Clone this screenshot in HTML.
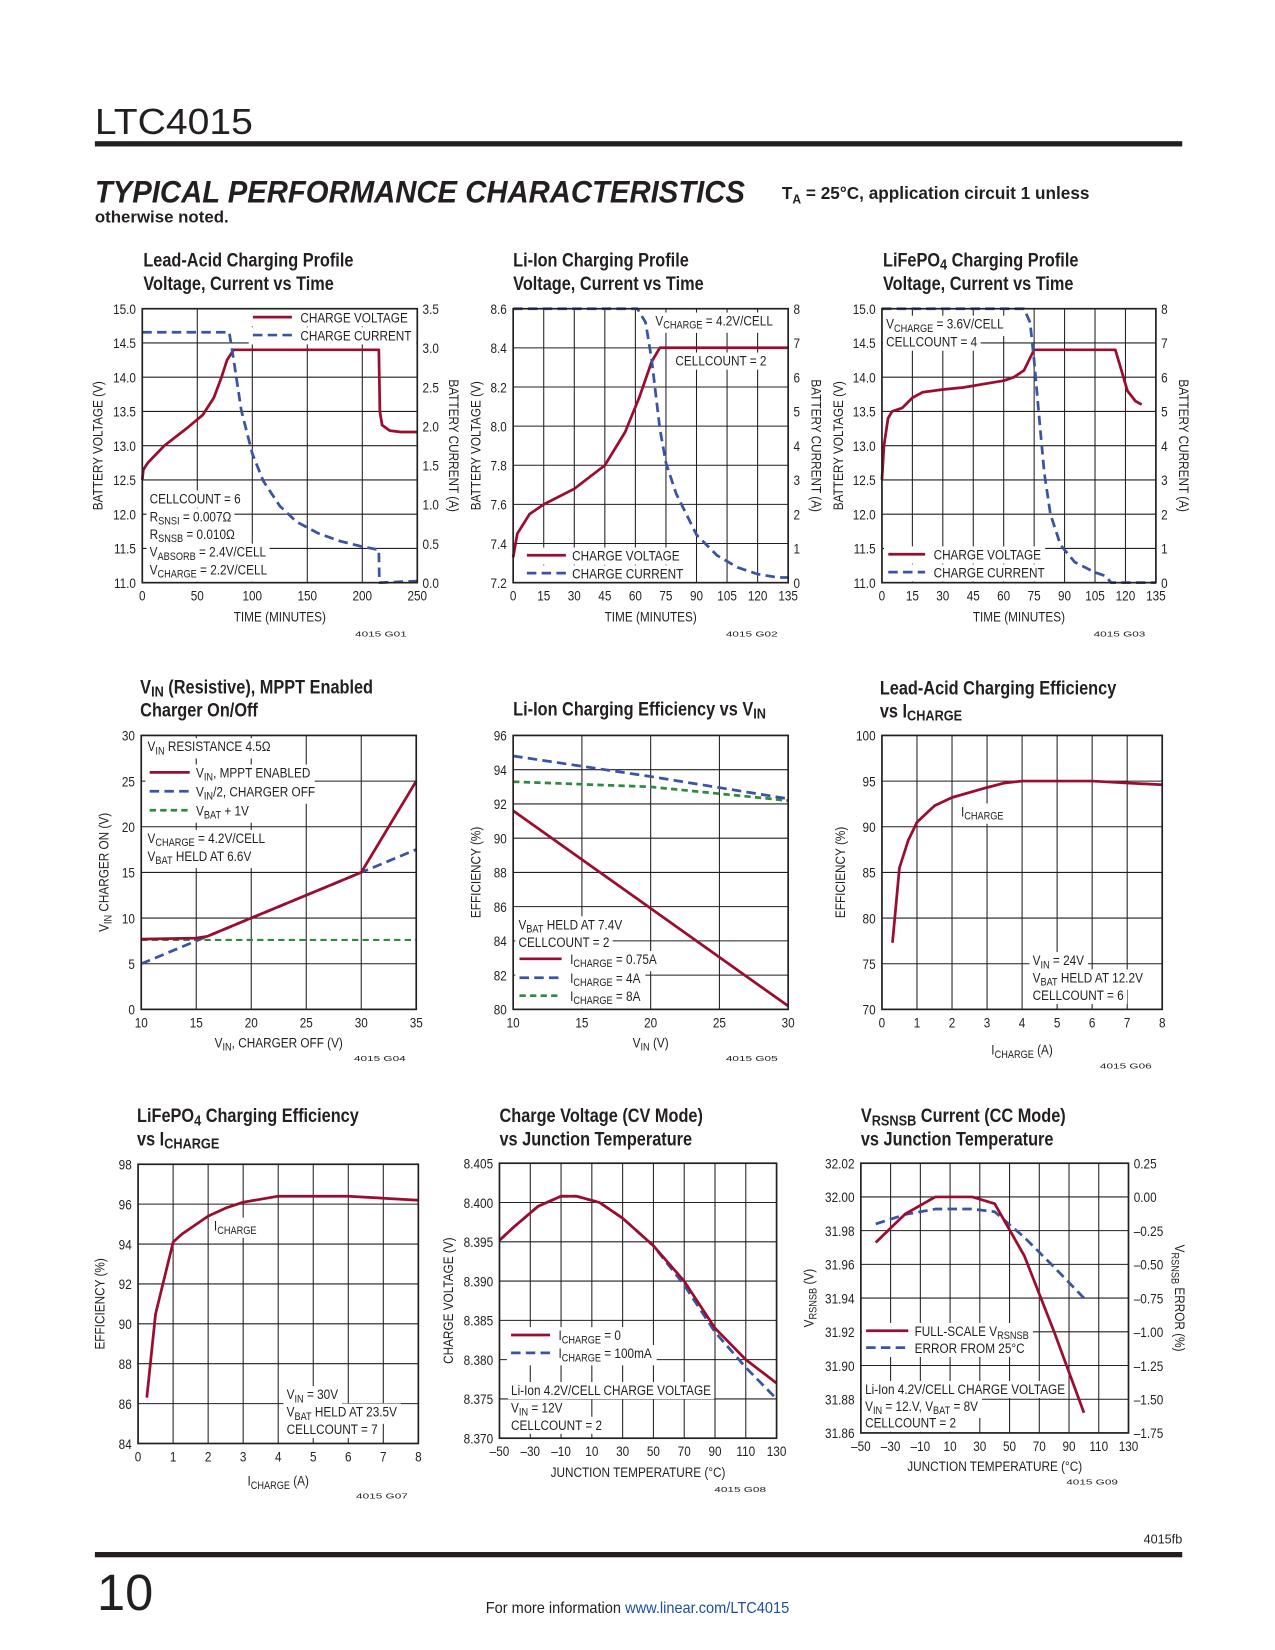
<!DOCTYPE html>
<html><head><meta charset="utf-8"><style>
html,body{margin:0;padding:0;background:#fff}
svg{display:block}
text{font-family:"Liberation Sans Narrow","Liberation Sans",sans-serif;fill:#231f20}
.t{font-size:13px}
.ttl{font-size:18px;font-weight:bold}
</style></head><body>
<svg id="page" width="1275" height="1650" viewBox="0 0 1210 1566" xmlns="http://www.w3.org/2000/svg">
<rect width="1210" height="1566" fill="#fff"/>
<text x="90" y="127" textLength="150" lengthAdjust="spacingAndGlyphs" style="font-family:'Liberation Sans',sans-serif;font-size:34px;font-weight:300">LTC4015</text>
<rect x="90" y="134" width="1032" height="5" fill="#231f20"/>
<text x="90" y="192" textLength="617" lengthAdjust="spacingAndGlyphs" style="font-family:'Liberation Sans',sans-serif;font-size:30px;font-weight:bold;font-style:italic">TYPICAL PERFORMANCE CHARACTERISTICS</text>
<text x="742" y="189" textLength="292" lengthAdjust="spacingAndGlyphs" style="font-size:17px;font-weight:bold">T<tspan font-size="12" dy="4">A</tspan><tspan dy="-4"> = 25°C, application circuit 1 unless</tspan></text>
<text x="90" y="211" textLength="127" lengthAdjust="spacingAndGlyphs" style="font-size:16px;font-weight:bold">otherwise noted.</text>
<rect x="90" y="1473" width="1032" height="5" fill="#231f20"/>
<text x="1122" y="1465" text-anchor="end" style="font-size:12px">4015fb</text>
<text x="92" y="1528" style="font-family:'Liberation Sans',sans-serif;font-size:48px;font-weight:300">10</text>
<text x="605" y="1531" text-anchor="middle" textLength="288" lengthAdjust="spacingAndGlyphs" style="font-size:15px">For more information <tspan style="fill:#1a4fa0">www.linear.com/LTC4015</tspan></text>
<g id="charts"></g>
</svg>
<script>
// ---------- DATA ----------
const c1Time=[0,1,5,20,40,55,65,72,77,83,215,216,218,225,235,250];
const c1Volt=[12.5,12.65,12.75,13.0,13.25,13.45,13.7,14.0,14.25,14.4,14.4,13.5,13.3,13.22,13.2,13.2];
const c1CurTime=[0,79,83,90,100,110,125,140,160,180,200,215,215.5,250];
const c1Cur=[3.2,3.2,2.85,2.2,1.65,1.3,0.98,0.78,0.63,0.53,0.46,0.42,0.0,0.02];

const c2Time=[0,2,8,15,30,45,55,62,68,72,135];
const c2Volt=[7.33,7.45,7.55,7.6,7.68,7.8,7.97,8.15,8.33,8.4,8.4];
const c2CurTime=[0,61,65,68,72,75,80,90,100,110,120,130,135];
const c2Cur=[8,8,7.6,6.5,4.5,3.5,2.6,1.4,0.8,0.45,0.25,0.15,0.15];

const c3Time=[0,1,3,5,10,15,20,30,40,50,60,65,70,75,115,118,121,125,128];
const c3Volt=[12.5,13.0,13.4,13.5,13.55,13.7,13.78,13.82,13.85,13.9,13.95,14.0,14.1,14.4,14.4,14.1,13.8,13.65,13.6];
const c3CurTime=[0,70,73,75,78,80,83,88,95,105,110,113,135];
const c3Cur=[8,8,7.6,6.5,4.5,3.2,2.0,1.1,0.6,0.3,0.2,0,0];

const c4VinOff=[10,15,16,20,30,35];
const c4Mppt=[7.7,7.8,8.0,10,15,25];
const c4HalfX=[10,30,35];
const c4Half=[5,15,17.5];
const c4BatX=[10,35];
const c4Bat=[7.6,7.6];

const c5Vin=[10,20,30];
const c5I075=[91.6,85.9,80.2];
const c5I4=[94.8,93.6,92.3];
const c5I8=[93.3,93.0,92.2];

const c6I=[0.3,0.5,0.75,1,1.5,2,3,3.5,4,5,6,7,8];
const c6Eff=[77.3,85.5,88.5,90.5,92.3,93.2,94.3,94.8,95,95,95,94.8,94.6];

const c7I=[0.25,0.5,1,1.25,2,2.5,3,4,5,6,7,8];
const c7Eff=[86.3,90.5,94.1,94.5,95.4,95.8,96.1,96.4,96.4,96.4,96.3,96.2];

const c8Temp=[-50,-40,-25,-10,0,15,30,50,70,90,110,130];
const c8I0=[8.3952,8.397,8.3995,8.4008,8.4008,8.400,8.398,8.3945,8.390,8.384,8.380,8.377];
const c8I100=[8.3952,8.397,8.3995,8.4008,8.4008,8.400,8.398,8.3945,8.3895,8.3835,8.379,8.375];

const c9Temp=[-40,-20,0,25,40,60,80,100];
const c9Vrs=[31.973,31.99,32.0,32.0,31.996,31.965,31.92,31.872];
const c9ErrTemp=[-40,-20,0,25,40,60,80,100];
const c9Err=[-0.2,-0.13,-0.09,-0.09,-0.11,-0.3,-0.52,-0.75];

// ---------- HELPERS ----------
const NS="http://www.w3.org/2000/svg";
const root=document.getElementById('charts');
const RED="#9b0d2e",BLUE="#3a53a4",GREEN="#2e8a3e";
const SQUEEZE=0.86;
function el(tag,attrs,parent){const e=document.createElementNS(NS,tag);for(const k in attrs)e.setAttribute(k,attrs[k]);(parent||root).appendChild(e);return e;}
function rich(s){return s.replace(/_\{([^}]*)\}/g,'<tspan font-size="0.78em" dy="3">$1</tspan><tspan dy="-3">\u200b</tspan>');}
function txt(x,y,s,cls,anchor,g,name){const t=el('text',{x:x,y:y,class:cls||'t','text-anchor':anchor||'start'},g);t.innerHTML=rich(s);


const w=t.getComputedTextLength();if(w>0){t.setAttribute('textLength',(w*SQUEEZE).toFixed(1));t.setAttribute('lengthAdjust','spacingAndGlyphs');}
return t;}
function fmt(v,d){const s=Math.abs(v).toFixed(d);return (v<-1e-9?'\u2013':'')+s;}
function chart(c){
  const g=el('g',{});
  
  
  const grid=el('g',{},g),ann=el('g',{},g),ser=el('g',{},g),top=el('g',{},g);
  const [L,T,R,B]=c.box;
  const sx=v=>L+(v-c.x[0])/(c.x[1]-c.x[0])*(R-L);
  const sy=v=>B-(v-c.y[0])/(c.y[1]-c.y[0])*(B-T);
  const syr=c.yr?v=>B-(v-c.yr[0])/(c.yr[1]-c.yr[0])*(B-T):null;
  for(let v=c.x[0];v<=c.x[1]+1e-9;v+=c.x[2]){el('line',{x1:sx(v),x2:sx(v),y1:T,y2:B,stroke:'#231f20','stroke-width':1},grid);
    txt(sx(v),B+17,fmt(v,c.x[3]||0),'t','middle',top,'x-tick-label');}
  for(let v=c.y[0];v<=c.y[1]+1e-9;v+=c.y[2]){el('line',{x1:L,x2:R,y1:sy(v),y2:sy(v),stroke:'#231f20','stroke-width':1},grid);
    txt(L-6,sy(v)+5,fmt(v,c.y[3]||0),'t','end',top,'y-tick-label');}
  if(c.yr){for(let v=c.yr[0];v<=c.yr[1]+1e-9;v+=c.yr[2]){txt(R+5,syr(v)+5,fmt(v,c.yr[3]||0),'t','start',top,'y2-tick-label');}}
  const bx=el('rect',{x:L,y:T,width:R-L,height:B-T,fill:'none',stroke:'#231f20','stroke-width':1.6},top);
  
  
  txt((L+R)/2,c.xlabY,c.xlabel,'t','middle',top,'x-axis-title');
  const yl=txt(0,0,c.ylabel,'t','middle',top,'y-axis-title');yl.setAttribute('transform',`translate(${c.ylabX},${(T+B)/2}) rotate(-90)`);
  if(c.yrlabel){const yr=txt(0,0,c.yrlabel,'t','middle',top,'y2-axis-title');yr.setAttribute('transform',`translate(${c.yrlabX},${(T+B)/2}) rotate(90)`);}
  c.title.forEach((s,i)=>txt(c.tx,c.ty+i*22,s,'ttl','start',top,'chart-title'));
  const tg=txt(R-10,c.tagY||B+51,c.tag,'t','end',top,'figure-tag');tg.setAttribute('style','font-size:7px');
  return {g,ann,ser,sx,sy,syr};
}
function series(ch,xs,ys,color,dash,right,name,w){
  const f=right?ch.syr:ch.sy;
  const pts=xs.map((x,i)=>ch.sx(x).toFixed(1)+','+f(ys[i]).toFixed(1)).join(' ');
  const p=el('polyline',{points:pts,fill:'none',stroke:color,'stroke-width':w||2.6,'stroke-linejoin':'round'},ch.ser);
  if(dash)p.setAttribute('stroke-dasharray',dash);
  
  
}
function annot(ch,x,y,lines,lh){
  const grp=el('g',{},ch.ann);
  
  
  lines.forEach((s,i)=>{
    const bg=el('rect',{fill:'#fff'},grp);
    const t=txt(x,y+i*(lh||17),s,'t','start',grp,'annotation-text');
    const b=t.getBBox();
    bg.setAttribute('x',b.x-3);bg.setAttribute('y',b.y-1);bg.setAttribute('width',b.width+6);bg.setAttribute('height',b.height+2);
  });
}
function legend(ch,x1,x2,y,color,dash,label,tx){
  const grp=el('g',{},ch.ann);
  
  
  const bg=el('rect',{fill:'#fff'},grp);
  const l=el('line',{x1:x1,x2:x2,y1:y,y2:y,stroke:color,'stroke-width':2.6},grp);
  if(dash)l.setAttribute('stroke-dasharray',dash);
  const t=txt(tx,y+5,label,'t','start',grp,'legend-label');
  const b=t.getBBox();
  bg.setAttribute('x',x1-4);bg.setAttribute('y',Math.min(b.y,y-6)-1);bg.setAttribute('width',b.x+b.width-x1+8);bg.setAttribute('height',Math.max(b.height,12)+2);
}
const DASH="9,5",GDASH="6,4";

// ---------- CHART 1 ----------
let ch=chart({name:'lead-acid-charging-profile',box:[135,293,396,553],x:[0,250,50,0],y:[11,15,0.5,1],yr:[0,3.5,0.5,1],
 xlabel:'TIME (MINUTES)',xlabY:590,ylabel:'BATTERY VOLTAGE (V)',ylabX:97,yrlabel:'BATTERY CURRENT (A)',yrlabX:426,
 title:['Lead-Acid Charging Profile','Voltage, Current vs Time'],tx:136,ty:253,tag:'4015 G01'});
series(ch,c1Time,c1Volt,RED,null,false,'charge-voltage-line');
series(ch,c1CurTime,c1Cur,BLUE,DASH,true,'charge-current-line');
legend(ch,240,277,301,RED,null,'CHARGE VOLTAGE',285);
legend(ch,240,277,318,BLUE,DASH,'CHARGE CURRENT',285);
annot(ch,142,478,['CELLCOUNT = 6','R_{SNSI} = 0.007Ω','R_{SNSB} = 0.010Ω','V_{ABSORB} = 2.4V/CELL','V_{CHARGE} = 2.2V/CELL'],16.8);

// ---------- CHART 2 ----------
ch=chart({name:'li-ion-charging-profile',box:[487,293,748,553],x:[0,135,15,0],y:[7.2,8.6,0.2,1],yr:[0,8,1,0],
 xlabel:'TIME (MINUTES)',xlabY:590,ylabel:'BATTERY VOLTAGE (V)',ylabX:456,yrlabel:'BATTERY CURRENT (A)',yrlabX:770,
 title:['Li-Ion Charging Profile','Voltage, Current vs Time'],tx:487,ty:253,tag:'4015 G02'});
series(ch,c2Time,c2Volt,RED,null,false,'charge-voltage-line');
series(ch,c2CurTime,c2Cur,BLUE,DASH,true,'charge-current-line');
annot(ch,622,309,['V_{CHARGE} = 4.2V/CELL']);
annot(ch,641,347,['CELLCOUNT = 2']);
legend(ch,500,537,527,RED,null,'CHARGE VOLTAGE',543);
legend(ch,500,537,544,BLUE,DASH,'CHARGE CURRENT',543);

// ---------- CHART 3 ----------
ch=chart({name:'lifepo4-charging-profile',box:[837,293,1097,553],x:[0,135,15,0],y:[11,15,0.5,1],yr:[0,8,1,0],
 xlabel:'TIME (MINUTES)',xlabY:590,ylabel:'BATTERY VOLTAGE (V)',ylabX:800,yrlabel:'BATTERY CURRENT (A)',yrlabX:1119,
 title:['LiFePO_{4} Charging Profile','Voltage, Current vs Time'],tx:838,ty:253,tag:'4015 G03'});
series(ch,c3Time,c3Volt,RED,null,false,'charge-voltage-line');
series(ch,c3CurTime,c3Cur,BLUE,DASH,true,'charge-current-line');
annot(ch,841,312,['V_{CHARGE} = 3.6V/CELL','CELLCOUNT = 4'],17);
legend(ch,843,878,526,RED,null,'CHARGE VOLTAGE',886);
legend(ch,843,878,543,BLUE,DASH,'CHARGE CURRENT',886);

// ---------- CHART 4 ----------
ch=chart({name:'vin-mppt-chart',box:[134,698,395,958],x:[10,35,5,0],y:[0,30,5,0],
 xlabel:'V_{IN}, CHARGER OFF (V)',xlabY:994,ylabel:'V_{IN} CHARGER ON (V)',ylabX:103,
 title:['V_{IN} (Resistive), MPPT Enabled','Charger On/Off'],tx:133,ty:658,tag:'4015 G04',tagY:1007});
series(ch,c4BatX,c4Bat,GREEN,GDASH,false,'vbat-plus-1v-line',2);
series(ch,c4HalfX,c4Half,BLUE,DASH,false,'vin-half-line');
series(ch,c4VinOff,c4Mppt,RED,null,false,'vin-mppt-line');
annot(ch,140,713,['V_{IN} RESISTANCE 4.5Ω']);
legend(ch,142,180,733,RED,null,'V_{IN}, MPPT ENABLED',186);
legend(ch,142,180,751,BLUE,DASH,'V_{IN}/2, CHARGER OFF',186);
legend(ch,142,180,769,GREEN,GDASH,'V_{BAT} + 1V',186);
annot(ch,140,800,['V_{CHARGE} = 4.2V/CELL','V_{BAT} HELD AT 6.6V'],17);

// ---------- CHART 5 ----------
ch=chart({name:'li-ion-efficiency-chart',box:[487,698,748,958],x:[10,30,5,0],y:[80,96,2,0],
 xlabel:'V_{IN} (V)',xlabY:994,ylabel:'EFFICIENCY (%)',ylabX:456,
 title:['Li-Ion Charging Efficiency vs V_{IN}'],tx:487,ty:679,tag:'4015 G05',tagY:1007});
series(ch,c5Vin,c5I8,GREEN,GDASH,false,'efficiency-8a-line');
series(ch,c5Vin,c5I4,BLUE,DASH,false,'efficiency-4a-line');
series(ch,c5Vin,c5I075,RED,null,false,'efficiency-075a-line');
annot(ch,492,882,['V_{BAT} HELD AT 7.4V','CELLCOUNT = 2'],17);
legend(ch,493,533,910,RED,null,'I_{CHARGE} = 0.75A',541);
legend(ch,493,533,928,BLUE,DASH,'I_{CHARGE} = 4A',541);
legend(ch,493,533,945,GREEN,GDASH,'I_{CHARGE} = 8A',541);

// ---------- CHART 6 ----------
ch=chart({name:'lead-acid-efficiency-chart',box:[837,698,1103,958],x:[0,8,1,0],y:[70,100,5,0],
 xlabel:'I_{CHARGE} (A)',xlabY:1001,ylabel:'EFFICIENCY (%)',ylabX:802,
 title:['Lead-Acid Charging Efficiency','vs I_{CHARGE}'],tx:835,ty:659,tag:'4015 G06',tagY:1014});
series(ch,c6I,c6Eff,RED,null,false,'efficiency-line');
annot(ch,912,775,['I_{CHARGE}']);
annot(ch,980,916,['V_{IN} = 24V','V_{BAT} HELD AT 12.2V','CELLCOUNT = 6'],16.5);

// ---------- CHART 7 ----------
ch=chart({name:'lifepo4-efficiency-chart',box:[131,1105,397,1370],x:[0,8,1,0],y:[84,98,2,0],
 xlabel:'I_{CHARGE} (A)',xlabY:1410,ylabel:'EFFICIENCY (%)',ylabX:99,
 title:['LiFePO_{4} Charging Efficiency','vs I_{CHARGE}'],tx:130,ty:1065,tag:'4015 G07',tagY:1422});
series(ch,c7I,c7Eff,RED,null,false,'efficiency-line');
annot(ch,203,1168,['I_{CHARGE}']);
annot(ch,272,1328,['V_{IN} = 30V','V_{BAT} HELD AT 23.5V','CELLCOUNT = 7'],16.5);

// ---------- CHART 8 ----------
ch=chart({name:'charge-voltage-vs-temp-chart',box:[474,1104,737,1365],x:[-50,130,20,0],y:[8.370,8.405,0.005,3],
 xlabel:'JUNCTION TEMPERATURE (°C)',xlabY:1402,ylabel:'CHARGE VOLTAGE (V)',ylabX:430,
 title:['Charge Voltage (CV Mode)','vs Junction Temperature'],tx:474,ty:1065,tag:'4015 G08',tagY:1416});
series(ch,c8Temp,c8I100,BLUE,DASH,false,'icharge-100ma-line');
series(ch,c8Temp,c8I0,RED,null,false,'icharge-0-line');
legend(ch,485,522,1267,RED,null,'I_{CHARGE} = 0',530);
legend(ch,485,522,1284,BLUE,DASH,'I_{CHARGE} = 100mA',530);
annot(ch,485,1324,['Li-Ion 4.2V/CELL CHARGE VOLTAGE','V_{IN} = 12V','CELLCOUNT = 2'],16.5);

// ---------- CHART 9 ----------
ch=chart({name:'vrsnsb-vs-temp-chart',box:[817,1104,1071,1360],x:[-50,130,20,0],y:[31.86,32.02,0.02,2],yr:[-1.75,0.25,0.25,2],
 xlabel:'JUNCTION TEMPERATURE (°C)',xlabY:1396,ylabel:'V_{RSNSB} (V)',ylabX:772,yrlabel:'V_{RSNSB} ERROR (%)',yrlabX:1115,
 title:['V_{RSNSB} Current (CC Mode)','vs Junction Temperature'],tx:817,ty:1065,tag:'4015 G09',tagY:1409});
series(ch,c9ErrTemp,c9Err,BLUE,DASH,true,'error-from-25c-line');
series(ch,c9Temp,c9Vrs,RED,null,false,'full-scale-vrsnsb-line');
legend(ch,822,862,1263,RED,null,'FULL-SCALE V_{RSNSB}',868);
legend(ch,822,862,1279,BLUE,DASH,'ERROR FROM 25°C',868);
annot(ch,821,1323,['Li-Ion 4.2V/CELL CHARGE VOLTAGE','V_{IN} = 12.V, V_{BAT} = 8V','CELLCOUNT = 2'],16);
</script>
</body></html>
